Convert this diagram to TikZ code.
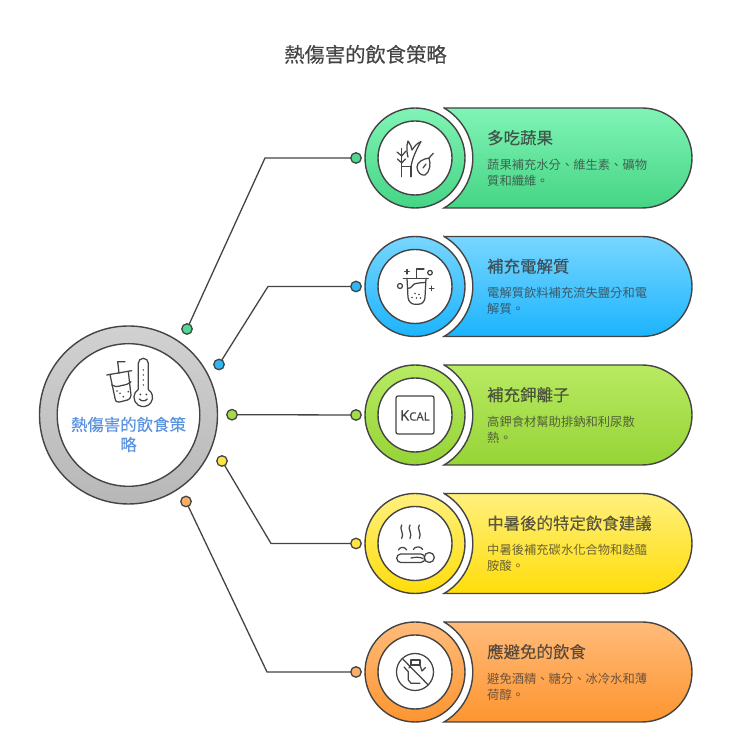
\documentclass[tikz,border=0pt]{standalone}
\usepackage{fontspec}
\setmainfont{Noto Sans CJK TC}
\newfontfamily\medfont[FakeBold=0.2]{Noto Sans CJK TC}
\newfontfamily\kcalfont[FakeBold=0.5]{Open Sans}
\definecolor{ink}{HTML}{444444}
\definecolor{gAt}{HTML}{80F4B5}\definecolor{gAb}{HTML}{45D585}\definecolor{gAd}{HTML}{4FD890}
\definecolor{gBt}{HTML}{78D6FF}\definecolor{gBb}{HTML}{1CB4FD}\definecolor{gBd}{HTML}{2DB8F5}
\definecolor{gCt}{HTML}{B8EA62}\definecolor{gCb}{HTML}{96D436}\definecolor{gCd}{HTML}{A4DC48}
\definecolor{gDt}{HTML}{FFF07E}\definecolor{gDb}{HTML}{FFDD0A}\definecolor{gDd}{HTML}{FFE544}
\definecolor{gEt}{HTML}{FFBB7A}\definecolor{gEb}{HTML}{FD9530}\definecolor{gEd}{HTML}{FBAE68}
\definecolor{labelblue}{HTML}{5A93E0}
\tikzset{
  x=1pt,y=1pt,
  outline/.style={draw=ink,line width=1.4pt},
  iconline/.style={draw=ink,line width=1.25pt,line cap=round,line join=round},
  conn/.style={draw=ink,line width=1.3pt},
  dot/.style={circle,draw=ink,line width=1.3pt,minimum size=10.5pt,inner sep=0pt,outer sep=0pt},
  disc/.style={circle,outline,minimum size=#1,inner sep=0pt,outer sep=0pt},
  headtxt/.style={anchor=base west,inner sep=0pt,font=\medfont\fontsize{16.45}{16.45}\selectfont,text=black!80,text opacity=.78},
  desctxt/.style={anchor=base west,inner sep=0pt,font=\fontsize{12.3}{12.3}\selectfont,text=black!80,text opacity=.72},
  hubtxt/.style={inner sep=0pt,text=labelblue,font=\medfont\fontsize{16.4}{16.4}\selectfont},
}
% #1 id, #2 image y, #3 colour key, #4 heading, #5 line 1, #6 line 2, #7 icon
\newcommand{\rowitem}[7]{%
  \pgfmathsetmacro{\Yc}{738-#2}
  \begin{scope}[shift={(415,\Yc)}]
    \path[outline,top color=g#3t,bottom color=g#3b]
      (29,50) -- (227,50) arc[start angle=90,end angle=-90,radius=50]
      -- (29,-50) arc[start angle=-59.9,end angle=59.9,radius=57.8] -- cycle;
    \node[disc=100pt,top color=g#3t,bottom color=g#3b] (ring#1) at (0,0) {};
    \node[disc=74pt,fill=white] (core#1) at (0,0) {};
    \node[dot,fill=g#3d] (end#1) at (-59,0) {};
    \node[headtxt] (head#1) at (72,14) {#4};
    \node[desctxt] (lineA#1) at (72,-11.2) {#5};
    \node[desctxt] (lineB#1) at (72,-27.2) {#6};
    #7
  \end{scope}}
\begin{document}
\begin{tikzpicture}
\useasboundingbox (0,0) rectangle (740,738);
\node[inner sep=0pt,font=\medfont\fontsize{20.3}{20.3}\selectfont,text=ink] (title) at (365.5,683.6) {熱傷害的飲食策略};

\rowitem{1}{158}{A}{多吃蔬果}{蔬果補充水分、維生素、礦物}{質和纖維。}{%
  \draw[iconline] (-13.3,-18.7) -- (-13.3,9.5);
  \draw[iconline] (-4,-18.7) -- (-4,-8.7) -- (-13.3,-8.7);
  \draw[iconline] (-18,6) -- (-13.3,2) -- (-9,7);
  \draw[iconline] (-17.5,-1) -- (-13.3,-5) -- (-9.5,-1);
  \draw[iconline] (-4,-8.7) .. controls (-3,-2) and (0,6) .. (6,16.5) .. controls (1,14) and (-1,11) .. (-3,8) .. controls (-3,11) and (-5,14) .. (-7,17) .. controls (-9,12) and (-8,4) .. (-7,1);
  \draw[iconline] (14,0) .. controls (8,-1) and (2,-4) .. (2,-9) .. controls (2,-14) and (6,-18) .. (10,-17) .. controls (15,-14) and (16,-6) .. (14,0) -- (18.3,4.7);
  \draw[iconline] (8,-10) -- (11,-6);
}
\rowitem{2}{286.5}{B}{補充電解質}{電解質飲料補充流失鹽分和電}{解質。}{%
  \draw[iconline] (-11.7,8.2) -- (13.3,8.2);
  \draw[iconline] (-8,8.2) -- (-7,-11) .. controls (-6.5,-15.5) and (-3,-17.8) .. (0,-17.8) -- (3,-17.8) .. controls (7,-17.8) and (9.5,-15.5) .. (10,-11) -- (11,8.2);
  \draw[iconline] (1.7,8.2) -- (1.7,17.5) -- (9,17.5);
  \draw[iconline] (-7.5,-2) .. controls (-2,-2) and (-3,3) .. (1,3) .. controls (4,3.5) and (7,4) .. (10.6,4);
  \draw[iconline] (-8,12.5) -- (-8,17) (-10.2,14.8) -- (-5.8,14.8);
  \draw[iconline] (16.7,-4) -- (16.7,.4) (14.5,-1.8) -- (18.9,-1.8);
  \draw[iconline] (15,13.8) circle[radius=2.3];
  \draw[iconline] (-15,.5) circle[radius=2.5];
  \foreach \p in {(0,-7),(4,-8),(-3,-11),(1.5,-11.5),(5.5,-11.5)} \fill[ink] \p circle[radius=.8];
}
\rowitem{3}{415}{C}{補充鉀離子}{高鉀食材幫助排鈉和利尿散}{熱。}{%
  \draw[iconline,rounded corners=2pt] (-19,-19) rectangle (19,19);
  \node[inner sep=0pt,text=ink] (kcal) at (0,-.5) {\kcalfont\fontsize{14.5}{14.5}\selectfont K\fontsize{11.5}{11.5}\selectfont CAL};
}
\rowitem{4}{543.5}{D}{中暑後的特定飲食建議}{中暑後補充碳水化合物和麩醯}{胺酸。}{%
  \foreach \sx in {-13.3,-5,4.3} \draw[iconline] (\sx,18.5) .. controls (\sx-3,15) and (\sx+3,10) .. (\sx,5);
  \draw[iconline,rounded corners=4.2pt] (-18.3,-19) rectangle (10,-10.5);
  \draw[iconline] (-4,-14.5) .. controls (0,-13.5) and (5,-13.5) .. (8,-15);
  \draw[iconline,fill=white] (14.3,-14) circle[radius=5];
  \draw[iconline] (-16.7,-6.5) .. controls (-15,-3) and (-10,-3) .. (-8.3,-6.5);
  \draw[iconline] (-1.7,-6) .. controls (0,-2.5) and (6,-2.5) .. (7.7,-6);
}
\rowitem{5}{672}{E}{應避免的飲食}{避免酒精、糖分、冰冷水和薄}{荷醇。}{%
  \draw[iconline] (0,0) circle[radius=18.5];
  \draw[iconline] (-12.3,13) -- (13.3,-13);
  \draw[iconline] (-4,7) -- (-4,12) -- (5,12) -- (5,7) -- (-4,7);
  \draw[iconline] (-11,5) -- (-6.7,.3) -- (-6.7,-8) -- (-4,-11.3) -- (5,-11.3);
  \draw[iconline] (-4,7) -- (-6,4);
  \draw[iconline] (5,7) -- (7,1) -- (10.5,4.5);
}

% central hub
\begin{scope}[shift={(128.5,323)}]
  \node[disc=178pt,top color=black!18,bottom color=black!28] (hubring) at (0,0) {};
  \node[disc=142.6pt,fill=white] (hub) at (0,0) {};
  \draw[iconline] (-21.8,40) -- (3.2,44.3);
  \draw[iconline] (-18.5,40.5) -- (-13.5,16.7) .. controls (-13,13) and (-11,12.6) .. (-9,13) -- (-1,15) .. controls (1,15.5) and (2.2,17) .. (2.5,19.7) -- (-.2,43.7);
  \draw[iconline] (-9.5,41.7) -- (-10.8,53.3) -- (-3.5,53.3);
  \draw[iconline] (-16.8,30) .. controls (-11,26.5) and (-8,30) .. (-4,30) .. controls (-2,30) and (0,31.5) .. (2.5,33.3);
  \foreach \p in {(-8.5,21.7),(-.2,23.3),(-5.2,18.3),(-11.5,24)} \fill[ink] \p circle[radius=.9];
  \draw[iconline] (9.8,25.5) -- (9.8,51.7) arc[start angle=180,end angle=0,radius=5] -- (19.8,25.5) arc[start angle=57,end angle=-237,radius=9.3] -- cycle;
  \foreach \ty in {30,35,40,45} \fill[ink] (14.8,\ty) circle[radius=.8];
  \fill[ink] (11.8,20.5) circle[radius=1] (17.8,20.5) circle[radius=1];
  \draw[iconline] (10.8,16) .. controls (12.8,13.5) and (16.8,13.5) .. (18.8,16);
  \node[hubtxt] (hubA) at (0,-9.5) {熱傷害的飲食策};
  \node[hubtxt] (hubB) at (0,-29.5) {略};
\end{scope}

% hub-side dots
\node[dot,fill=gAd] (startA) at (187,409) {};
\node[dot,fill=gBd] (startB) at (219,373.5) {};
\node[dot,fill=gCd] (startC) at (232,323.3) {};
\node[dot,fill=gDd] (startD) at (222,277) {};
\node[dot,fill=gEd] (startE) at (186,236.5) {};
\coordinate (bendA) at (265,580);
\coordinate (bendB) at (268,451.5);
\coordinate (bendD) at (271,194.5);
\coordinate (bendE) at (267,66);
\draw[conn] (startA) -- (bendA) -- (end1);
\draw[conn] (startB) -- (bendB) -- (end2);
\draw[conn] (startC) -- (end3);
\draw[conn] (startD) -- (bendD) -- (end4);
\draw[conn] (startE) -- (bendE) -- (end5);
\end{tikzpicture}
\end{document}
